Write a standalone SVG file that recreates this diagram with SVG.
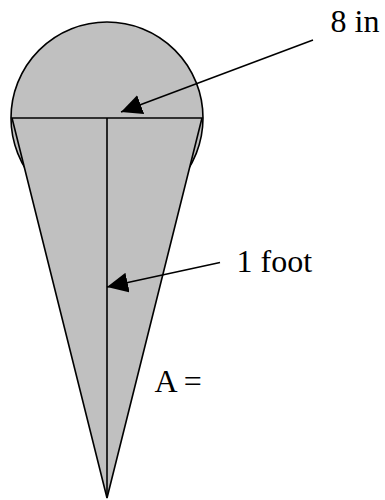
<svg xmlns="http://www.w3.org/2000/svg" width="385" height="500" viewBox="0 0 385 500">
<style>
.shape{fill:#c0c0c0;stroke:#000;stroke-width:1.6;stroke-linejoin:miter}
.ln{stroke:#000;stroke-width:1.6;fill:none}
.lbl{font-family:"Liberation Serif","Times New Roman",serif;font-size:32px;fill:#000}
</style>
<defs>
<marker id="arr" markerUnits="userSpaceOnUse" markerWidth="21" markerHeight="20" viewBox="0 0 21 20" refX="21" refY="10" orient="auto">
<path d="M0,0 L21,10 L0,20 Z" fill="#000"/>
</marker>
</defs>
<g id="scoop"><circle class="shape" cx="107" cy="118" r="96"/></g>
<g id="cone"><polygon class="shape" points="12,118 202,118 107,498"/></g>
<g id="connectors">
<line class="ln" x1="107" y1="118" x2="107" y2="498"/>
<line class="ln" x1="313" y1="40" x2="121" y2="112" marker-end="url(#arr)"/>
<line class="ln" x1="220" y1="262.5" x2="107" y2="287" marker-end="url(#arr)"/>
</g>
<g id="labels">
<text class="lbl" x="330.5" y="31.7">8 in</text>
<text class="lbl" x="236.5" y="272.3">1 foot</text>
<text class="lbl" x="154.5" y="391.7">A =</text>
</g>
</svg>
